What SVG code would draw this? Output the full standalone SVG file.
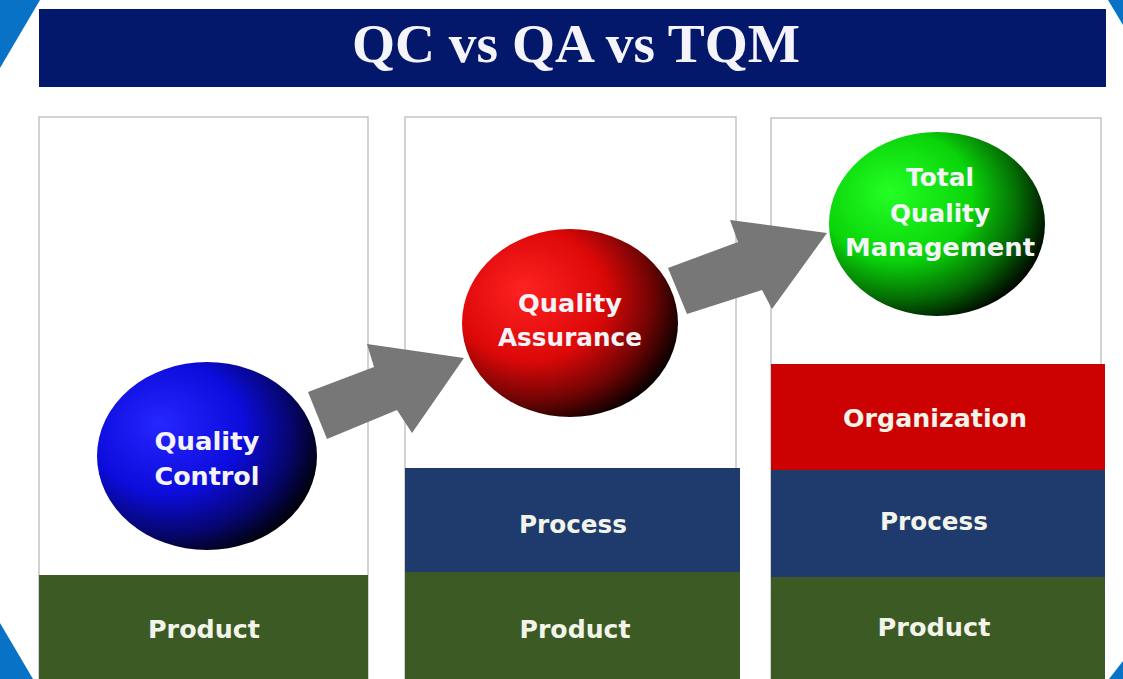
<svg xmlns="http://www.w3.org/2000/svg" width="1123" height="679" viewBox="0 0 1123 679">
  <style>
    .panel { fill: #ffffff; stroke: #c4c4c4; stroke-width: 1.5; }
    .green { fill: #3c5a24; }
    .blue { fill: #1f3b6d; }
    .red { fill: #cc0202; }
    .band { font-family: "DejaVu Sans", "Liberation Sans", sans-serif; font-weight: bold; font-size: 25px; text-anchor: middle; fill: #f2f4ea; }
    .orb { font-family: "DejaVu Sans", "Liberation Sans", sans-serif; font-weight: bold; font-size: 25px; text-anchor: middle; fill: #f4f4f8; }
    .arrow { fill: #787777; }
    .corner { fill: #0873c6; }
  </style>
  <defs>
    <radialGradient id="gBlue" cx="0.35" cy="0.38" r="0.7" fx="0.28" fy="0.32">
      <stop offset="0" stop-color="#2626ff"/>
      <stop offset="0.5" stop-color="#0c0cdc"/>
      <stop offset="0.78" stop-color="#060670"/>
      <stop offset="1" stop-color="#000000"/>
    </radialGradient>
    <radialGradient id="gRed" cx="0.35" cy="0.38" r="0.7" fx="0.28" fy="0.32">
      <stop offset="0" stop-color="#ff2222"/>
      <stop offset="0.5" stop-color="#dc0808"/>
      <stop offset="0.78" stop-color="#700404"/>
      <stop offset="1" stop-color="#000000"/>
    </radialGradient>
    <radialGradient id="gGreen" cx="0.35" cy="0.38" r="0.7" fx="0.28" fy="0.32">
      <stop offset="0" stop-color="#24ff24"/>
      <stop offset="0.5" stop-color="#0ad40a"/>
      <stop offset="0.78" stop-color="#046a04"/>
      <stop offset="1" stop-color="#000000"/>
    </radialGradient>
  </defs>

  <rect x="0" y="0" width="1123" height="679" fill="#ffffff"/>

  <!-- corner decorations -->
  <polygon class="corner" points="0,0 40,0 0,68"/>
  <polygon class="corner" points="1108,0 1123,0 1123,25"/>
  <polygon class="corner" points="0,623 33,679 0,679"/>
  <polygon class="corner" points="1123,661 1123,679 1109,679"/>

  <!-- title -->
  <g id="title">
    <rect x="39" y="9" width="1067" height="78" fill="#03186a"/>
    <text x="576" y="62" font-family="'Liberation Serif', 'DejaVu Serif', serif" font-weight="bold" font-size="54" fill="#f4f4fa" text-anchor="middle" textLength="448" lengthAdjust="spacingAndGlyphs">QC vs QA vs TQM</text>
  </g>

  <!-- panel QC -->
  <g id="panel-qc">
    <rect class="panel" x="39" y="117" width="329" height="570"/>
    <rect class="green" x="39" y="575" width="329" height="104"/>
    <text class="band" x="204" y="638" textLength="112" lengthAdjust="spacingAndGlyphs">Product</text>
  </g>

  <!-- panel QA -->
  <g id="panel-qa">
    <rect class="panel" x="405" y="117" width="331" height="570"/>
    <rect class="blue" x="405" y="468" width="335" height="104"/>
    <rect class="green" x="405" y="572" width="335" height="107"/>
    <text class="band" x="573" y="533" textLength="108" lengthAdjust="spacingAndGlyphs">Process</text>
    <text class="band" x="575" y="638" textLength="111" lengthAdjust="spacingAndGlyphs">Product</text>
  </g>

  <!-- panel TQM -->
  <g id="panel-tqm">
    <rect class="panel" x="771" y="118" width="330" height="570"/>
    <rect class="red" x="771" y="364" width="334" height="106"/>
    <rect class="blue" x="771" y="470" width="334" height="107"/>
    <rect class="green" x="771" y="577" width="334" height="102"/>
    <text class="band" x="935" y="427" textLength="184" lengthAdjust="spacingAndGlyphs">Organization</text>
    <text class="band" x="934" y="530" textLength="108" lengthAdjust="spacingAndGlyphs">Process</text>
    <text class="band" x="934" y="636" textLength="113" lengthAdjust="spacingAndGlyphs">Product</text>
  </g>

  <!-- connectors -->
  <g id="connectors">
    <polygon class="arrow" points="308,392 374,367 367,344 464,358 412,433 397,410 327,439"/>
    <polygon class="arrow" points="668,268 738,242 730,220 827,233 772,309 762,290 687,314"/>
  </g>

  <!-- nodes -->
  <g id="node-qc">
    <ellipse cx="207" cy="456" rx="110" ry="94" fill="url(#gBlue)"/>
    <text class="orb" x="207" y="450" textLength="105" lengthAdjust="spacingAndGlyphs">Quality</text>
    <text class="orb" x="207" y="485" textLength="105" lengthAdjust="spacingAndGlyphs">Control</text>
  </g>
  <g id="node-qa">
    <ellipse cx="570" cy="323" rx="108" ry="94" fill="url(#gRed)"/>
    <text class="orb" x="570" y="312" textLength="104" lengthAdjust="spacingAndGlyphs">Quality</text>
    <text class="orb" x="570" y="346" textLength="144" lengthAdjust="spacingAndGlyphs">Assurance</text>
  </g>
  <g id="node-tqm">
    <ellipse cx="937" cy="224" rx="108" ry="92" fill="url(#gGreen)"/>
    <text class="orb" x="940" y="186" textLength="68" lengthAdjust="spacingAndGlyphs">Total</text>
    <text class="orb" x="940" y="222" textLength="100" lengthAdjust="spacingAndGlyphs">Quality</text>
    <text class="orb" x="940" y="256" textLength="190" lengthAdjust="spacingAndGlyphs">Management</text>
  </g>
</svg>
